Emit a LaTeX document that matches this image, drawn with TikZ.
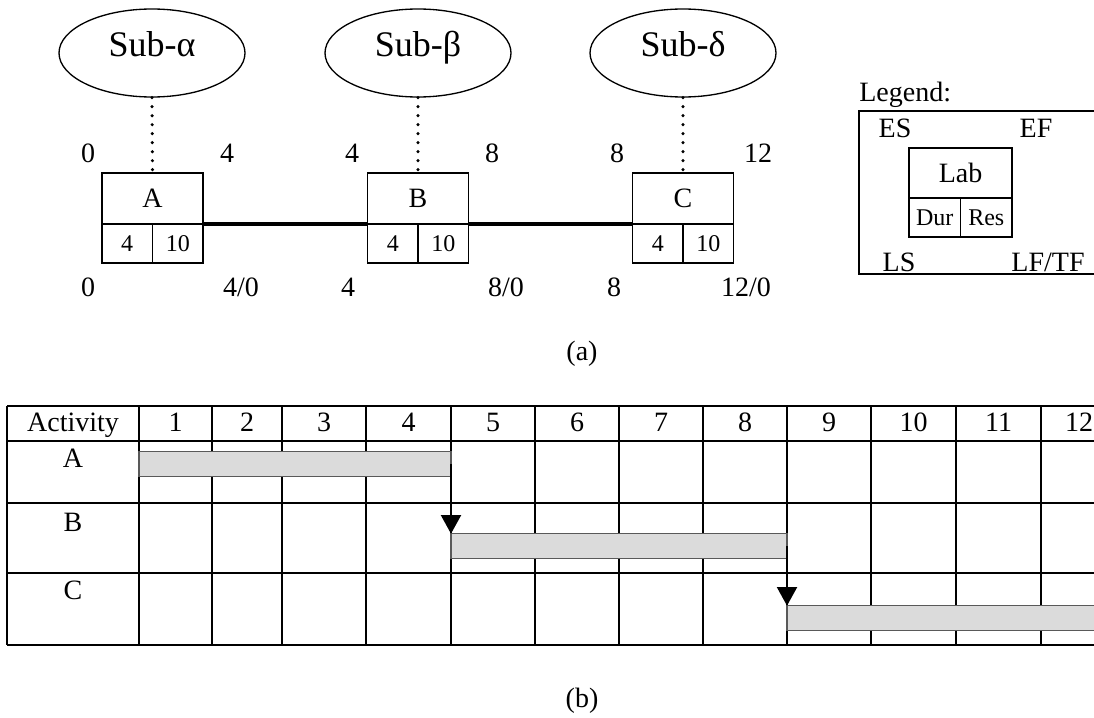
\documentclass[tikz,border=0pt]{standalone}
\usepackage{fontspec}
\setmainfont{Liberation Serif}
\usetikzlibrary{arrows.meta,shapes.geometric}
\begin{document}
\begin{tikzpicture}[x=0.75pt,y=-0.75pt,
  txt/.style={font=\fontsize{21}{25}\selectfont, inner sep=0pt,
    text height=0.68em, text depth=0pt, yshift=-3pt},
  subnet/.style={ellipse, draw, line width=1pt, minimum width=139.5pt,
    minimum height=66pt, inner sep=0pt, font=\fontsize{27}{32}\selectfont,
    text height=0.68em, text depth=0.2em},
  cellhead/.style={draw, line width=1pt, minimum width=75.75pt,
    minimum height=38.25pt, inner sep=0pt, outer sep=0pt,
    font=\fontsize{21}{25}\selectfont},
  cellnum/.style={draw, line width=1pt, minimum width=37.875pt,
    minimum height=29.25pt, inner sep=0pt, outer sep=0pt,
    font=\fontsize{18}{22}\selectfont},
  link/.style={line width=3.4pt},
  tie/.style={line width=2.6pt, line cap=round, dash pattern=on 0pt off 6.75pt},
  grid/.style={line width=1.5pt},
  bar/.style={draw=gray!70!black, fill=gray!28, line width=1pt, inner sep=0pt,
    outer sep=0pt, minimum height=18.4pt},
  dep/.style={line width=1.5pt, -{Triangle[width=15pt,length=14pt]}},
]
\useasboundingbox (0,0) rectangle (1094,717);

% activity box: name, centre x, label, duration, resource
\newcommand\actbox[5]{%
  \node[cellhead] (#1) at (#2,198.5) {#3};
  \node[cellnum] (#1d) at ({#2-18.94*4/3},243.5) {#4};
  \node[cellnum] (#1r) at ({#2+18.94*4/3},243.5) {#5};
}

% ---- (a) network ----
\node[subnet] (sa) at (152,53) {Sub-α};
\node[subnet] (sb) at (418,53) {Sub-β};
\node[subnet] (sc) at (683,53) {Sub-δ};

\actbox{A}{152.5}{A}{4}{10}
\actbox{B}{418}{B}{4}{10}
\actbox{C}{683}{C}{4}{10}

\draw[tie] (sa.south) -- (A.north);
\draw[tie] (sb.south) -- (B.north);
\draw[tie] (sc.south) -- (C.north);

\draw[link] (Ar.north east) -- (Bd.north west);
\draw[link] (Br.north east) -- (Cd.north west);

% early / late times
\node[txt] (a1) at (88,154) {0};
\node[txt] (a2) at (227,154) {4};
\node[txt] (a3) at (88,288) {0};
\node[txt] (a4) at (241,288) {4/0};
\node[txt] (b1) at (352,154) {4};
\node[txt] (b2) at (492,154) {8};
\node[txt] (b3) at (348,288) {4};
\node[txt] (b4) at (506,288) {8/0};
\node[txt] (c1) at (617,154) {8};
\node[txt] (c2) at (758,154) {12};
\node[txt] (c3) at (614,288) {8};
\node[txt] (c4) at (746,288) {12/0};

% legend
\node[txt, anchor=west] (leg) at (859,93) {Legend:};
\draw[line width=1.1pt] (859,111) rectangle (1100,274);
\node[txt] (es) at (895,129) {ES};
\node[txt] (ef) at (1036,129) {EF};
\node[txt] (ls) at (899,263) {LS};
\node[txt] (lf) at (1048,263) {LF/TF};
\node[cellhead, minimum width=77.25pt, minimum height=37.5pt] (L) at (960.5,173) {Lab};
\node[cellnum, minimum width=38.625pt] (Ld) at (934.75,217.5) {Dur};
\node[cellnum, minimum width=38.625pt] (Lr) at (986.25,217.5) {Res};

\node[txt] (capa) at (582,352) {(a)};

% ---- (b) bar chart ----
\foreach \y in {406,441,503,573,645} \draw[grid] (7,\y) -- (1100,\y);
\foreach \x in {7,139,212,282,366,451,535,619,703,787,871,956,1041}
  \draw[grid] (\x,406) -- (\x,645);

\node[txt] (hact) at (73,423) {Activity};
\foreach \n/\x in {1/175.5,2/247,3/324,4/408.5,5/493,6/577,7/661,8/745,
                   9/829,10/913.5,11/998.5,12/1079}
  \node[txt] (h\n) at (\x,423) {\n};
\node[txt] (rA) at (73,459) {A};
\node[txt] (rB) at (73,523) {B};
\node[txt] (rC) at (73,591) {C};

\node[bar, minimum width=234pt] (barA) at (295,464) {};
\node[bar, minimum width=252pt] (barB) at (619,546) {};
\node[bar, minimum width=234.75pt] (barC) at (943.5,618) {};

\draw[dep] (barA.east) -- (barB.north west);
\draw[dep] (barB.east) -- (barC.north west);

\node[txt] (capb) at (582,699) {(b)};
\end{tikzpicture}
\end{document}
